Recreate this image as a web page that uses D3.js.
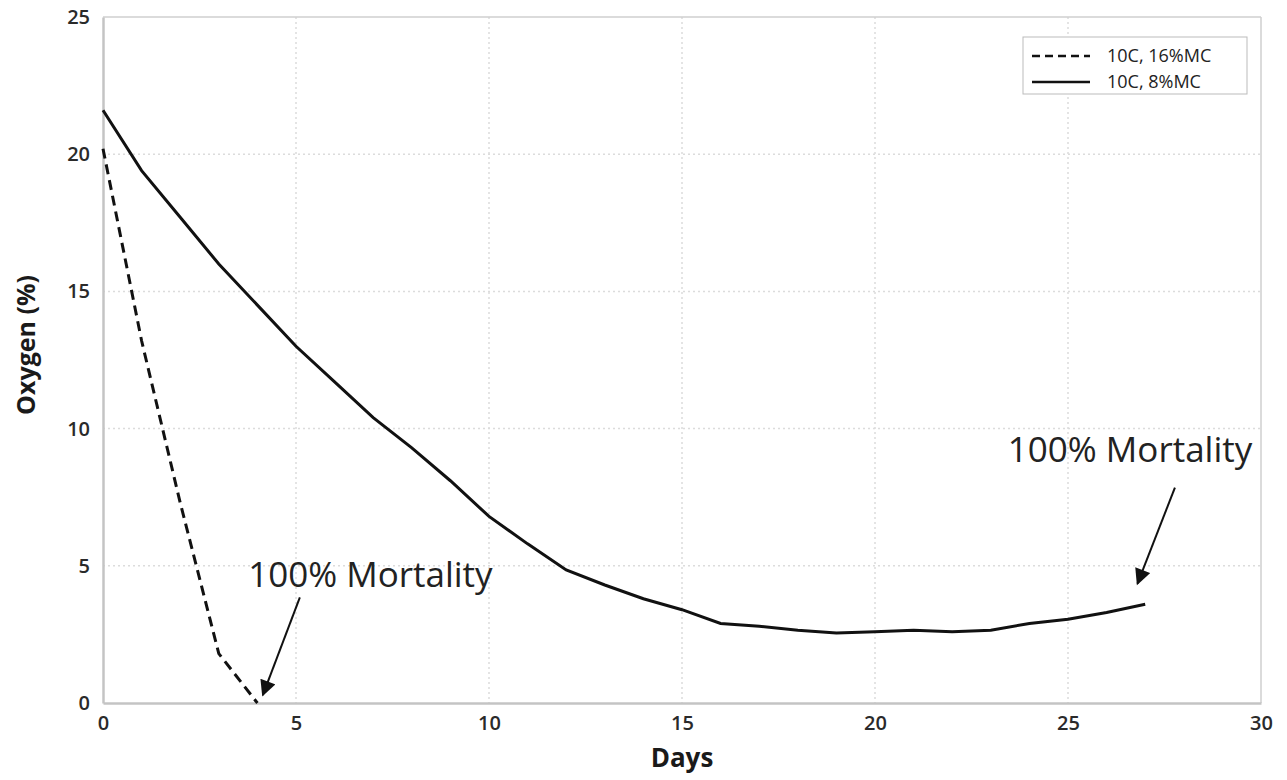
<!DOCTYPE html>
<html>
<head>
<meta charset="utf-8">
<script src="https://cdn.jsdelivr.net/npm/d3@7"></script>
<style>
  body { margin: 0; background: #fff; }
  svg { display: block; font-family: "Open Sans", "DejaVu Sans", sans-serif; }
</style>
</head>
<body>
<svg id="chart" width="1287" height="780"></svg>
<script>
// data
var days8 = [0,1,2,3,4,5,6,7,8,9,10,11,12,13,14,15,16,17,18,19,20,21,22,23,24,25,26,27];
var oxy8 = [21.6,19.4,17.7,16.0,14.5,13.0,11.7,10.4,9.3,8.1,6.8,5.8,4.85,4.3,3.8,3.4,2.9,2.8,2.65,2.55,2.6,2.65,2.6,2.65,2.9,3.05,3.3,3.6];
var days16 = [0,1,2,3,4];
var oxy16 = [20.2,13.2,7.3,1.8,0];
var xTicks = [0,5,10,15,20,25,30];
var yTicks = [0,5,10,15,20,25];
var legendLabels = ["10C, 16%MC", "10C, 8%MC"];
var notes = [
  {text: "100% Mortality", x: 3.76, y: 4.23, tipX: 4.14, tipY: 0.29, fromX: 5.1, fromY: 3.85},
  {text: "100% Mortality", x: 23.44, y: 8.78, tipX: 26.8, tipY: 4.35, fromX: 27.77, fromY: 7.85}
];

var svg = d3.select("#chart");
var pLeft = 103, pRight = 1261, pTop = 17, pBottom = 703;

var x = d3.scaleLinear().domain([0, 30]).range([pLeft, pRight]);
var y = d3.scaleLinear().domain([0, 25]).range([pBottom, pTop]);

// grid lines (dotted)
svg.append("g").selectAll("line.vg")
  .data(xTicks.slice(1, -1))
  .enter().append("line")
  .attr("x1", function(d) { return x(d); }).attr("x2", function(d) { return x(d); })
  .attr("y1", pTop).attr("y2", pBottom)
  .attr("stroke", "#dcdcdc").attr("stroke-width", 1.5).attr("stroke-dasharray", "2,3");
svg.append("g").selectAll("line.hg")
  .data(yTicks.slice(1, -1))
  .enter().append("line")
  .attr("x1", pLeft).attr("x2", pRight)
  .attr("y1", function(d) { return y(d); }).attr("y2", function(d) { return y(d); })
  .attr("stroke", "#dcdcdc").attr("stroke-width", 1.5).attr("stroke-dasharray", "2,3");

// frame
svg.append("line").attr("x1", pLeft).attr("x2", pRight).attr("y1", pTop).attr("y2", pTop)
  .attr("stroke", "#cfcfcf").attr("stroke-width", 1.5);
svg.append("line").attr("x1", pRight).attr("x2", pRight).attr("y1", pTop).attr("y2", pBottom)
  .attr("stroke", "#cfcfcf").attr("stroke-width", 1.5);

// axes
var xAxis = svg.append("g").attr("transform", "translate(0," + pBottom + ")")
  .call(d3.axisBottom(x).tickValues(xTicks).tickSize(0).tickPadding(13));
var yAxis = svg.append("g").attr("transform", "translate(" + pLeft + ",0)")
  .call(d3.axisLeft(y).tickValues(yTicks).tickSize(0).tickPadding(13));
[xAxis, yAxis].forEach(function(a) {
  a.select(".domain").attr("stroke", "#c4c4c4").attr("stroke-width", 2.5);
  a.selectAll("text").attr("font-size", 20).attr("font-weight", 600)
    .attr("fill", "#2a2a2a").style("font-family", "'Open Sans', sans-serif");
});

// axis titles
svg.append("text").attr("x", 682).attr("y", 767).attr("text-anchor", "middle")
  .attr("font-size", 26).attr("font-weight", 700).attr("fill", "#1a1a1a").text("Days");
svg.append("text").attr("transform", "translate(35," + 345 + ") rotate(-90)")
  .attr("text-anchor", "middle").attr("font-size", 25).attr("font-weight", 700)
  .attr("fill", "#1a1a1a").text("Oxygen (%)");

// lines
var line = d3.line()
  .x(function(d) { return x(d[0]); })
  .y(function(d) { return y(d[1]); });
svg.append("path").datum(d3.zip(days8, oxy8))
  .attr("d", line).attr("fill", "none").attr("stroke", "#111").attr("stroke-width", 3);
svg.append("path").datum(d3.zip(days16, oxy16))
  .attr("d", line).attr("fill", "none").attr("stroke", "#111").attr("stroke-width", 3)
  .attr("stroke-dasharray", "10,6");

// annotations
svg.append("defs").append("marker")
  .attr("id", "head").attr("viewBox", "0 0 10 10").attr("refX", 9).attr("refY", 5)
  .attr("markerWidth", 8.5).attr("markerHeight", 8).attr("orient", "auto")
  .attr("markerUnits", "strokeWidth")
  .append("path").attr("d", "M0,0 L10,5 L0,10 Z").attr("fill", "#111");
notes.forEach(function(n) {
  svg.append("text").attr("x", x(n.x)).attr("y", y(n.y))
    .attr("font-size", 35).attr("fill", "#222").text(n.text);
  svg.append("line")
    .attr("x1", x(n.fromX)).attr("y1", y(n.fromY))
    .attr("x2", x(n.tipX)).attr("y2", y(n.tipY))
    .attr("stroke", "#111").attr("stroke-width", 2).attr("marker-end", "url(#head)");
});

// legend
var lg = svg.append("g").attr("transform", "translate(1023,37)");
lg.append("rect").attr("width", 224).attr("height", 57)
  .attr("fill", "#fff").attr("stroke", "#bbb").attr("stroke-width", 1);
legendLabels.forEach(function(t, i) {
  var yy = 19 + i * 26;
  lg.append("line").attr("x1", 9).attr("x2", 67).attr("y1", yy).attr("y2", yy)
    .attr("stroke", "#111").attr("stroke-width", 2.5)
    .attr("stroke-dasharray", i === 0 ? "8,5" : null);
  lg.append("text").attr("x", 84).attr("y", yy + 6).attr("font-size", 18)
    .attr("fill", "#222").text(t);
});
</script>
</body>
</html>
